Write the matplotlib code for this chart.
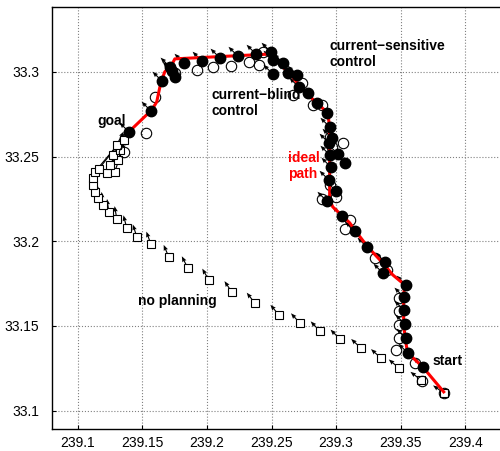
import numpy as np
import matplotlib
matplotlib.use('Agg')
from matplotlib import pyplot as plt

plt.rcParams['font.family'] = ['Liberation Sans', 'DejaVu Sans']

# ideal path (start -> goal)
ideal_lon = [239.3833, 239.3670, 239.3554, 239.3539, 239.3523, 239.3523, 239.3531, 239.3438,
             239.3361, 239.3245, 239.3144, 239.3105, 239.2974, 239.2950, 239.2950, 239.2935,
             239.2850, 239.2741, 239.2664, 239.2587, 239.2502, 239.1751, 239.1735, 239.1673,
             239.1642, 239.1611, 239.1573, 239.1395]
ideal_lat = [33.1111, 33.1259, 33.1341, 33.1406, 33.1506, 33.1684, 33.1743, 33.1802,
             33.1872, 33.1967, 33.2067, 33.2109, 33.2203, 33.2244, 33.2675, 33.2758,
             33.2817, 33.2894, 33.2970, 33.3030, 33.3106, 33.3077, 33.3053, 33.3000,
             33.2935, 33.2823, 33.2776, 33.2646]

# current-sensitive control (filled dots)
sens_lon = [239.3670, 239.3554, 239.3539, 239.3531, 239.3523, 239.3523, 239.3539, 239.3361,
            239.3376, 239.3237, 239.3144, 239.3043, 239.2927, 239.2997, 239.2943, 239.2958,
            239.3067, 239.2950, 239.3012, 239.2943, 239.2966, 239.2950, 239.2927, 239.2850,
            239.2780, 239.2710, 239.2695, 239.2625, 239.2587, 239.2509, 239.2509, 239.2494,
            239.2378, 239.2238, 239.2099, 239.1960, 239.1820, 239.1728, 239.1712, 239.1751,
            239.1650, 239.1565, 239.1395]
sens_lat = [33.1259, 33.1341, 33.1430, 33.1512, 33.1595, 33.1672, 33.1743, 33.1813,
            33.1878, 33.1967, 33.2061, 33.2150, 33.2238, 33.2298, 33.2362, 33.2439,
            33.2463, 33.2510, 33.2516, 33.2581, 33.2610, 33.2675, 33.2758, 33.2817,
            33.2876, 33.2911, 33.2982, 33.2994, 33.3053, 33.2988, 33.3071, 33.3118,
            33.3106, 33.3094, 33.3083, 33.3065, 33.3053, 33.3006, 33.3030, 33.2970,
            33.2947, 33.2770, 33.2646]

# current-blind control (open circles)
blind_lon = [239.3833, 239.3663, 239.3608, 239.3461, 239.3485, 239.3485, 239.3485, 239.3485,
             239.3392, 239.3299, 239.3067, 239.3105, 239.2889, 239.2997, 239.2950, 239.2966,
             239.3051, 239.2950, 239.2889, 239.2819, 239.2664, 239.2734, 239.2432, 239.2401,
             239.2324, 239.2184, 239.2045, 239.1921, 239.1751, 239.1596, 239.1526, 239.1356]
blind_lat = [33.1105, 33.1176, 33.1282, 33.1359, 33.1430, 33.1506, 33.1589, 33.1666,
             33.1831, 33.1902, 33.2073, 33.2126, 33.2250, 33.2262, 33.2333, 33.2557,
             33.2581, 33.2616, 33.2805, 33.2805, 33.2864, 33.2935, 33.3118, 33.3041,
             33.3059, 33.3035, 33.3030, 33.3012, 33.2994, 33.2852, 33.2640, 33.2528]

# no planning (squares), heading angles (deg) and arrow lengths (px)
nop_lon = [239.3833, 239.3655, 239.3485, 239.3345, 239.3190, 239.3028, 239.2872, 239.2718,
           239.2556, 239.2370, 239.2192, 239.2014, 239.1851, 239.1704, 239.1565, 239.1457,
           239.1379, 239.1302, 239.1240, 239.1193, 239.1155, 239.1132, 239.1116, 239.1116,
           239.1132, 239.1163, 239.1224, 239.1286, 239.1248, 239.1310, 239.1271, 239.1325,
           239.1302, 239.1356]
nop_lat = [33.1105, 33.1182, 33.1253, 33.1312, 33.1371, 33.1424, 33.1471, 33.1518,
           33.1566, 33.1636, 33.1701, 33.1772, 33.1843, 33.1908, 33.1985, 33.2026,
           33.2079, 33.2132, 33.2174, 33.2215, 33.2256, 33.2292, 33.2333, 33.2374,
           33.2410, 33.2427, 33.2404, 33.2410, 33.2451, 33.2481, 33.2510, 33.2540,
           33.2569, 33.2599]
nop_head = [145, 142, 140, 138, 137, 135, 133, 132, 130, 128, 124, 120, 117, 113, 110, 108,
            105, 100, 98, 95, 92, 90, 80, 70, 50, 52, 62, 71, 60, 69, 62, 68, 63, 70]
nop_len = [13, 13, 13, 13, 13, 13, 13, 13, 13, 13, 13, 13, 13, 13, 13, 13,
           13, 13, 13, 13, 13, 13, 13, 13, 40, 38, 36, 34, 30, 26, 24, 18, 15, 10]
sens_head = 135

xticks = [239.1, 239.15, 239.2, 239.25, 239.3, 239.35, 239.4]
yticks = [33.1, 33.15, 33.2, 33.25, 33.3]

fig = plt.figure(figsize=(5, 4.51), dpi=100)
ax = fig.add_axes([52/500, 21.7/451, 452/500, 422.6/451])

# heading arrows
a = np.radians(nop_head)
ln = np.array(nop_len)
ax.quiver(nop_lon, nop_lat, ln*np.cos(a), ln*np.sin(a), angles='uv', scale_units='dots',
          scale=1, width=0.0025, headwidth=4, headlength=5, headaxislength=4.5,
          color='k', zorder=2)
a = np.radians(sens_head)
n = len(sens_lon)
ax.quiver(sens_lon, sens_lat, 13*np.cos(a)*np.ones(n), 13*np.sin(a)*np.ones(n),
          angles='uv', scale_units='dots', scale=1, width=0.0025, headwidth=4, headlength=5,
          headaxislength=4.5, color='k', zorder=2)

ax.plot(nop_lon, nop_lat, 's', ms=5.5, mfc='white', mec='k', mew=0.8, zorder=3)
ax.plot(blind_lon, blind_lat, 'o', ms=7.5, mfc='none', mec='k', mew=0.8, zorder=3)
ax.plot(ideal_lon, ideal_lat, '-', color='red', lw=2.2, zorder=4)
ax.plot(sens_lon, sens_lat, 'o', ms=7.5, mfc='k', mec='k', zorder=5)

# labels
fs = 10
ax.text(239.1155, 33.2687, 'goal', fontsize=fs, fontweight='bold', va='baseline', zorder=6)
ax.text(239.295, 33.3035, 'current\u2212sensitive\ncontrol', fontsize=fs, fontweight='bold',
        va='baseline', linespacing=1.15, zorder=6)
ax.text(239.2037, 33.2746, 'current\u2212blind\ncontrol', fontsize=fs, fontweight='bold',
        va='baseline', linespacing=1.15, zorder=6)
ax.text(239.2625, 33.2374, 'ideal\npath', fontsize=fs, fontweight='bold', color='red',
        va='baseline', linespacing=1.15, zorder=6)
ax.text(239.1464, 33.1625, 'no planning', fontsize=fs, fontweight='bold', va='baseline', zorder=6)
ax.text(239.3748, 33.127, 'start', fontsize=fs, fontweight='bold', va='baseline', zorder=6)

ax.set_xlim(239.08, 239.43)
ax.set_ylim(33.089, 33.3385)
ax.set_xticks(xticks)
ax.set_xticklabels(['239.1', '239.15', '239.2', '239.25', '239.3', '239.35', '239.4'])
ax.set_yticks(yticks)
ax.set_yticklabels(['33.1', '33.15', '33.2', '33.25', '33.3'])
ax.tick_params(direction='in', length=3, labelsize=10)
ax.tick_params(axis='x', pad=5)
ax.tick_params(axis='y', pad=9)
ax.grid(True, color='0.5', linestyle=':', linewidth=0.8)
ax.spines['right'].set_visible(False)
for s in ['left', 'top', 'bottom']:
    ax.spines[s].set_linewidth(1.0)

fig.savefig('out.png', dpi=100)
